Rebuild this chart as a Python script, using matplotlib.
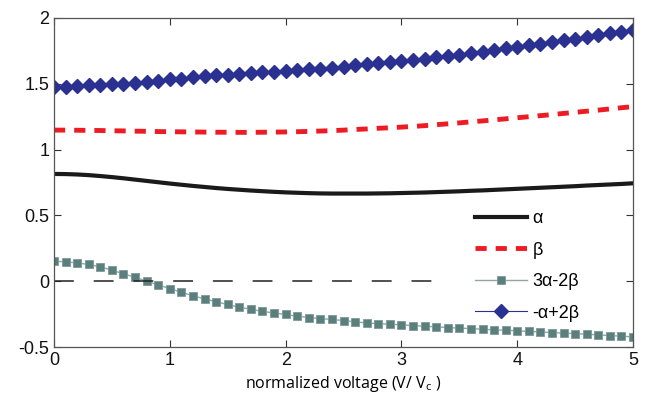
import numpy as np
import matplotlib
matplotlib.use("Agg")
import matplotlib.pyplot as plt

# normalized voltage, step 0.1
v = [round(0.1 * i, 1) for i in range(51)]

alpha = [0.815, 0.814, 0.811, 0.806, 0.799, 0.791, 0.782, 0.772, 0.762, 0.752,
         0.742, 0.733, 0.724, 0.716, 0.708, 0.701, 0.695, 0.689, 0.684, 0.679,
         0.675, 0.672, 0.669, 0.667, 0.666, 0.666, 0.666, 0.666, 0.667, 0.668,
         0.670, 0.672, 0.674, 0.677, 0.680, 0.683, 0.687, 0.690, 0.694, 0.698,
         0.702, 0.706, 0.710, 0.714, 0.718, 0.722, 0.727, 0.731, 0.735, 0.739,
         0.744]

beta = [1.148, 1.148, 1.147, 1.146, 1.145, 1.143, 1.142, 1.140, 1.139, 1.137,
        1.136, 1.135, 1.134, 1.133, 1.132, 1.132, 1.131, 1.131, 1.132, 1.133,
        1.134, 1.136, 1.138, 1.141, 1.144, 1.148, 1.153, 1.157, 1.162, 1.166,
        1.171, 1.176, 1.182, 1.189, 1.196, 1.203, 1.211, 1.218, 1.226, 1.234,
        1.242, 1.250, 1.258, 1.266, 1.275, 1.283, 1.292, 1.300, 1.309, 1.318,
        1.327]

comb1 = [0.152, 0.147, 0.139, 0.127, 0.109, 0.084, 0.056, 0.030, 0.000, -0.028,
         -0.056, -0.084, -0.111, -0.134, -0.157, -0.177, -0.198, -0.213, -0.230, -0.241,
         -0.253, -0.266, -0.276, -0.284, -0.291, -0.299, -0.309, -0.317, -0.322, -0.327,
         -0.332, -0.337, -0.342, -0.347, -0.352, -0.357, -0.360, -0.365, -0.370, -0.372,
         -0.377, -0.382, -0.385, -0.390, -0.395, -0.398, -0.403, -0.408, -0.413, -0.418,
         -0.423]

comb2 = [1.478, 1.478, 1.483, 1.488, 1.491, 1.496, 1.501, 1.509, 1.516, 1.524,
         1.534, 1.539, 1.549, 1.559, 1.564, 1.567, 1.572, 1.580, 1.587, 1.592,
         1.597, 1.602, 1.610, 1.615, 1.622, 1.630, 1.640, 1.648, 1.656, 1.663,
         1.671, 1.680, 1.690, 1.700, 1.711, 1.722, 1.734, 1.745, 1.757, 1.769,
         1.781, 1.793, 1.805, 1.818, 1.831, 1.843, 1.856, 1.869, 1.883, 1.896,
         1.910]

zero_x = [0, 3.33]
zero_y = [0, 0]

plt.rcParams['font.family'] = ['Liberation Sans', 'DejaVu Sans']

fig = plt.figure(figsize=(6.46, 4.0), dpi=100)
ax = fig.add_axes([0.0836, 0.1325, 0.8964, 0.8225])

ax.plot(v, alpha, color='#1a1a1a', lw=3.0, label='\u03b1')
lb, = ax.plot(v, beta, color='#ed1c24', lw=3.5, label='\u03b2')
lb.set_dashes([2.3, 1.85])
ax.plot(v, comb1, color='#8fa8a6', lw=1.0, marker='s', markersize=6.2,
        markerfacecolor='#5a7f7c', markeredgecolor='#7d9a98', markeredgewidth=0.6,
        label='3\u03b1-2\u03b2')
ax.plot(v, comb2, color='#2b3190', lw=0.8, marker='D', markersize=7.0,
        markerfacecolor='#2b3190', markeredgecolor='#2b3190',
        label='-\u03b1+2\u03b2')
lz, = ax.plot(zero_x, zero_y, color='#222222', lw=1.1)
lz.set_dashes([13, 13])

ax.set_xlim(0, 5)
ax.set_ylim(-0.5, 2)
ax.set_xticks([0, 1, 2, 3, 4, 5])
ax.set_yticks([-0.5, 0, 0.5, 1, 1.5, 2])
ax.set_yticklabels(['-0.5', '0', '0.5', '1', '1.5', '2'])
ax.tick_params(direction='in', top=True, right=True, labelsize=13, length=5,
               width=0.8, colors='#333333', labelcolor='#111111')
for s in ax.spines.values():
    s.set_color('#555555')
    s.set_linewidth(0.9)

ax.set_xlabel('normalized voltage (V/ V$_\\mathregular{c}$ )', fontsize=11.5,
              family=['Open Sans', 'DejaVu Sans'], labelpad=4)

leg = ax.legend(loc='lower right', bbox_to_anchor=(0.92, 0.055), frameon=False,
                fontsize=13, handlelength=2.9, handletextpad=0.3,
                labelspacing=0.8, borderaxespad=0)

fig.savefig('out.png', dpi=100)
